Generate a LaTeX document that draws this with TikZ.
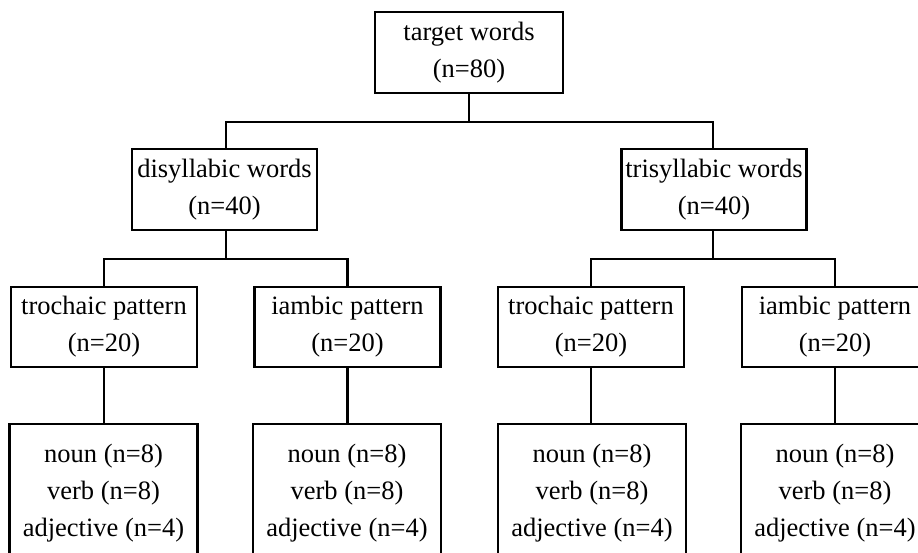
\documentclass[tikz,border=0pt]{standalone}
\usepackage{fontspec}
\setmainfont{Liberation Serif}
\begin{document}
\begin{tikzpicture}[x=1pt,y=-1pt,
  box/.style={draw=black,line width=2.5pt,align=center,inner sep=0pt,
    font=\fontsize{26.5}{37}\selectfont},
  lvlA/.style={box,minimum width=188pt,minimum height=81pt},
  lvlB/.style={box,minimum width=185pt,minimum height=81pt},
  lvlC/.style={box,minimum width=186pt,minimum height=80pt},
  lvlD/.style={box,minimum width=188pt,minimum height=138pt},
  conn/.style={draw=black,line width=2.4pt}]
\useasboundingbox (0,0) rectangle (918,552);
\clip (0,0) rectangle (918,552);
\node[lvlA] (root) at (469,52.5) {target words\\(n=80)};
\node[lvlB] (disy) at (224.5,189.5) {disyllabic words\\(n=40)};
\node[lvlB] (tri) at (714,189.5) {trisyllabic words\\(n=40)};
\node[lvlC] (dt) at (104,327) {trochaic pattern\\(n=20)};
\node[lvlC] (di) at (347.5,327) {iambic pattern\\(n=20)};
\node[lvlC] (tt) at (591,327) {trochaic pattern\\(n=20)};
\node[lvlC] (ti) at (835,327) {iambic pattern\\(n=20)};
\node[lvlD] (dtw) at (103.5,493) {noun (n=8)\\verb (n=8)\\adjective (n=4)};
\node[lvlD] (diw) at (347,493) {noun (n=8)\\verb (n=8)\\adjective (n=4)};
\node[lvlD] (ttw) at (592,493) {noun (n=8)\\verb (n=8)\\adjective (n=4)};
\node[lvlD] (tiw) at (835,493) {noun (n=8)\\verb (n=8)\\adjective (n=4)};
\coordinate (j0) at (469,122);
\coordinate (j1) at (226,259);
\coordinate (j2) at (713,259);
\draw[conn] (root.south) -- (j0);
\draw[conn] (disy.north -| j1) |- (j0) -| (tri.north -| j2);
\draw[conn] (disy.south -| j1) -- (j1);
\draw[conn] (dt.north) |- (j1) -| (di.north);
\draw[conn] (tri.south -| j2) -- (j2);
\draw[conn] (tt.north) |- (j2) -| (ti.north);
\draw[conn] (dt.south) -- (dtw.north -| dt.south);
\draw[conn] (di.south) -- (diw.north -| di.south);
\draw[conn] (tt.south) -- (ttw.north -| tt.south);
\draw[conn] (ti.south) -- (tiw.north -| ti.south);
\end{tikzpicture}
\end{document}
